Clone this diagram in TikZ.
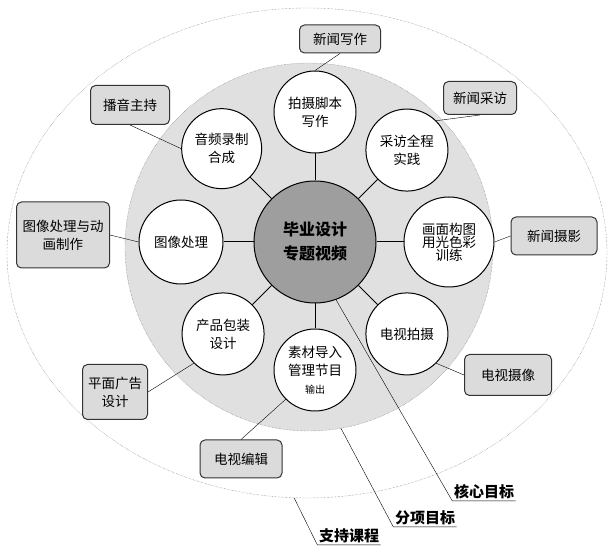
\documentclass[tikz,border=0pt]{standalone}
\usepackage{fontspec}
\setmainfont{Noto Sans CJK SC}
\usetikzlibrary{calc, shapes.geometric}

\begin{document}
\begin{tikzpicture}[x=1pt, y=1pt,
    aim/.style={draw, circle, fill=white, line width=1pt, minimum size=82pt, inner sep=1pt, align=center, font=\fontsize{13.5}{18}\selectfont},
    course/.style={draw=black!80, fill=black!14, rounded corners=5pt, line width=1pt, align=center, font=\fontsize{13.5}{18}\selectfont, minimum width=80pt, minimum height=38pt, inner sep=3pt},
    tag/.style={font=\bfseries\fontsize{15}{18}\selectfont, inner sep=1.5pt}]
    \useasboundingbox (0,0) rectangle (608,546);

    \node[draw=black!60, densely dotted, ellipse, minimum width=600pt, minimum height=490pt, fill=white] (outer) at (307,293) {};
    \node[draw=black!60, densely dotted, circle, minimum size=368pt, fill=black!12] (ring) at (309,299) {};
    \node[draw, circle, line width=1pt, fill=black!38, minimum size=122pt, align=center, font=\bfseries\fontsize{16}{24}\selectfont] (core) at (315,304) {毕业设计\\专题视频};

    \node[aim] (aim 1) at ($(core)+(90:130)$) {拍摄脚本\\写作};
    \node[aim] (aim 2) at ($(core)+(45:130)$) {采访全程\\实践};
    \node[aim, minimum size=90pt, font=\fontsize{13.5}{13}\selectfont] (aim 3) at ($(core)+(0:134)$) {画面构图\\用光色彩\\训练};
    \node[aim] (aim 4) at ($(core)+(-45:130)$) {电视拍摄};
    \node[aim] (aim 5) at ($(core)+(-90:128)$) {素材导入\\管理节目\\{\fontsize{10}{10}\selectfont 输出}};
    \node[aim] (aim 6) at ($(core)+(-135:130)$) {产品包装\\设计};
    \node[aim, minimum size=84pt] (aim 7) at ($(core)+(180:134)$) {图像处理};
    \node[aim, minimum size=80pt] (aim 8) at ($(core)+(135:132)$) {音频录制\\合成};

    \node[course, minimum width=81pt, minimum height=28pt] (box 1) at (340,507) {新闻写作};
    \node[course, minimum width=73pt, minimum height=33pt] (box 2) at (480,448) {新闻采访};
    \node[course, minimum width=86pt] (box 3) at (554,310) {新闻摄影};
    \node[course, minimum width=87pt, minimum height=41pt] (box 4) at (508,171) {电视摄像};
    \node[course, minimum width=82pt] (box 5) at (241,87) {电视编辑};
    \node[course, minimum width=65pt, minimum height=55pt] (box 6) at (115,154) {平面广告\\设计};
    \node[course, minimum width=93pt, minimum height=66pt] (box 7) at (63,311) {图像处理与动\\画制作};
    \node[course, minimum width=79pt, minimum height=39pt] (box 8) at (130,441) {播音主持};

    \node[tag] (lab 1) at (484,54) {核心目标};
    \node[tag] (lab 2) at (425,28) {分项目标};
    \node[tag] (lab 3) at (349,10) {支持课程};

    \foreach \i in {1,...,8}
    \draw[line width=1pt] (core) -- (aim \i);

    \draw (box 1.south) -- (aim 1.north);
    \draw (box 2.south) -- (aim 2.north east);
    \draw (box 3.west) -- (aim 3.east);
    \draw (box 4.west) -- (aim 4.south east);
    \draw (box 5.north) -- (aim 5.south west);
    \draw (box 6.east) -- (aim 6.south west);
    \draw (box 7.east) -- (aim 7.west);
    \draw (box 8.south) -- (aim 8.west);

    \draw (core.-70) -- (lab 1.south west) -- (lab 1.south east);
    \draw (ring.-80) -- (lab 2.south west) -- (lab 2.south east);
    \draw (outer.-93) -- (lab 3.south west) -- (lab 3.south east);
\end{tikzpicture}
\end{document}
